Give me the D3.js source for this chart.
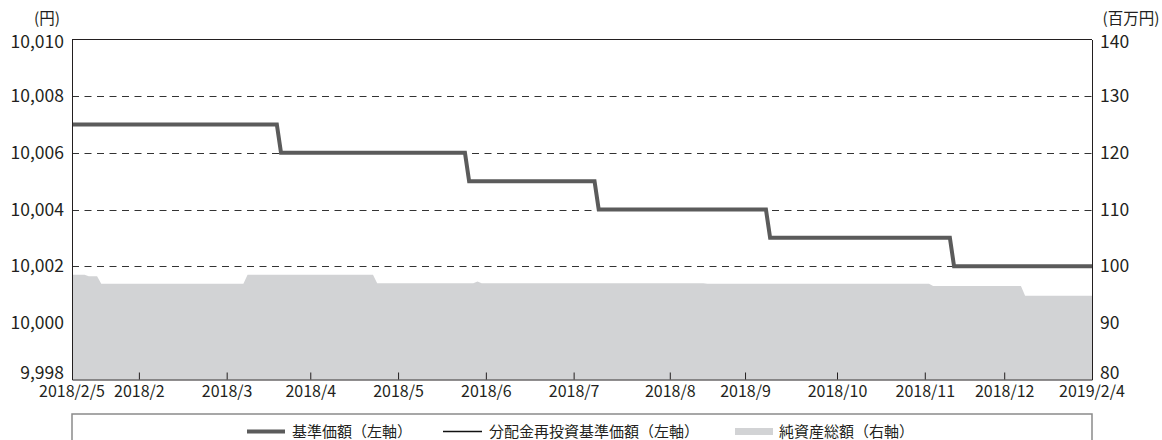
<!DOCTYPE html>
<html><head><meta charset="utf-8">
<script src="https://cdn.jsdelivr.net/npm/d3@7"></script>
<style>
html,body{margin:0;padding:0;background:#fff;}
svg{display:block;font-family:"Noto Sans CJK JP","Noto Sans",sans-serif;}
</style></head>
<body>
<svg id="c" width="1162" height="440"></svg>
<script>
// business-day index axis: 0 = 2018/2/5, 244 = 2019/2/4
const xDomain = [0, 244];
const tickIdx = [16, 37, 57, 78, 99, 120, 143, 161, 183, 204, 223];
const tickLabels = ["2018/2","2018/3","2018/4","2018/5","2018/6","2018/7","2018/8","2018/9","2018/10","2018/11","2018/12"];
const endLabels = ["2018/2/5", "2019/2/4"];
const leftTicks = [9998, 10000, 10002, 10004, 10006, 10008, 10010];
const rightTicks = [80, 90, 100, 110, 120, 130, 140];

// 基準価額 (change points, yen)
const navIdx = [0, 49, 50, 94, 95, 125, 126, 166, 167, 210, 211, 244];
const navVal = [10007, 10007, 10006, 10006, 10005, 10005, 10004, 10004, 10003, 10003, 10002, 10002];
// 分配金再投資基準価額 (same as NAV, no distributions)
const reinvVal = [10007, 10007, 10006, 10006, 10005, 10005, 10004, 10004, 10003, 10003, 10002, 10002];
// 純資産総額 (百万円)
const assetIdx = [0, 3, 4, 6, 7, 41, 42, 72, 73, 96, 97, 98, 151, 152, 205, 206, 227, 228, 244];
const assetVal = [98.5, 98.5, 98.2, 98.2, 96.9, 96.9, 98.5, 98.5, 97.0, 97.0, 97.3, 97.0, 97.0, 96.9, 96.9, 96.5, 96.5, 94.8, 94.8];

const legendLabels = ["基準価額（左軸）", "分配金再投資基準価額（左軸）", "純資産総額（右軸）"];

const L = 72, R = 1092, T = 39.5, B = 379.5;
const svg = d3.select("#c");
const x = d3.scaleLinear().domain(xDomain).range([L, R]);
const yL = d3.scaleLinear().domain([9998, 10010]).range([B, T]);
const yR = d3.scaleLinear().domain([80, 140]).range([B, T]);
const ink = "#231f20";
const labelShift = (d, i, n) => i === 0 ? -6.5 : (i === n.length - 1 ? 2 : 0);

// grid (beneath area)
svg.append("g").selectAll("line").data(leftTicks.slice(1, -1)).join("line")
  .attr("x1", L).attr("x2", R).attr("y1", d => Math.round(yL(d)) + 0.5).attr("y2", d => Math.round(yL(d)) + 0.5)
  .attr("stroke", "#333").attr("stroke-width", 1).attr("stroke-dasharray", "7,5.5");

// area
const assets = assetIdx.map((d, i) => ({i: d, v: assetVal[i]}));
svg.append("path").datum(assets)
  .attr("d", d3.area().x(d => x(d.i)).y0(yR(80)).y1(d => yR(d.v)))
  .attr("fill", "#d2d3d5");

// reinvest line (thin, beneath)
const reinv = navIdx.map((d, i) => ({i: d, v: reinvVal[i]}));
svg.append("path").datum(reinv)
  .attr("d", d3.line().x(d => x(d.i)).y(d => yL(d.v)))
  .attr("fill", "none").attr("stroke", "#111").attr("stroke-width", 1.5);
// NAV line
const nav = navIdx.map((d, i) => ({i: d, v: navVal[i]}));
svg.append("path").datum(nav)
  .attr("d", d3.line().x(d => x(d.i)).y(d => yL(d.v)))
  .attr("fill", "none").attr("stroke", "#5b5b5b").attr("stroke-width", 4).attr("stroke-linejoin", "miter");

// axes
const xAxis = d3.axisBottom(x).tickValues(tickIdx).tickFormat((d, i) => tickLabels[i]).tickSizeInner(-7).tickSizeOuter(0).tickPadding(6);
const gx = svg.append("g").attr("transform", `translate(0,${B})`).call(xAxis);
gx.select(".domain").attr("stroke", ink);
gx.selectAll(".tick line").attr("stroke", ink);
gx.selectAll("text").attr("font-size", 16).attr("fill", ink).attr("font-family", "Noto Sans CJK JP");
svg.append("g").selectAll("text").data(endLabels).join("text")
  .attr("x", (d, i) => x(xDomain[i])).attr("y", B + 6).attr("dy", "0.71em")
  .attr("text-anchor", "middle").attr("font-size", 16).attr("fill", ink).text(d => d);

const fmt = d3.format(",");
const gl = svg.append("g").attr("transform", `translate(${L},0)`)
  .call(d3.axisLeft(yL).tickValues(leftTicks).tickFormat(fmt).tickSize(0).tickPadding(8));
gl.select(".domain").attr("stroke", ink);
gl.selectAll("text").attr("font-size", 17.5).attr("fill", ink).attr("font-family", "Noto Sans CJK JP")
  .attr("transform", (d, i, n) => `translate(0,${labelShift(d, i, n)})`);
const gr = svg.append("g").attr("transform", `translate(${R},0)`)
  .call(d3.axisRight(yR).tickValues(rightTicks).tickSize(0).tickPadding(8));
gr.select(".domain").attr("stroke", ink);
gr.selectAll("text").attr("font-size", 17.5).attr("fill", ink).attr("font-family", "Noto Sans CJK JP")
  .attr("transform", (d, i, n) => `translate(0,${labelShift(d, i, n)})`);
svg.append("line").attr("x1", L).attr("x2", R).attr("y1", T).attr("y2", T).attr("stroke", ink);

svg.append("text").attr("x", 47).attr("y", 24).attr("text-anchor", "middle").attr("font-size", 15.5).attr("fill", ink).text("(円)");
svg.append("text").attr("x", 1131).attr("y", 24).attr("text-anchor", "middle").attr("font-size", 15.5).attr("fill", ink).text("(百万円)");

// legend
svg.append("rect").attr("x", L).attr("y", 414).attr("width", R - L).attr("height", 60)
  .attr("fill", "none").attr("stroke", "#8a8a8a").attr("stroke-width", 1.5);
const ly = 431.5;
const lg = svg.append("g");
lg.append("line").attr("x1", 247).attr("x2", 285).attr("y1", ly).attr("y2", ly).attr("stroke", "#5b5b5b").attr("stroke-width", 4);
lg.append("text").attr("x", 292).attr("y", ly).attr("dy", "0.35em").attr("font-size", 15).attr("fill", ink).text(legendLabels[0]);
lg.append("line").attr("x1", 443).attr("x2", 482).attr("y1", ly).attr("y2", ly).attr("stroke", "#111").attr("stroke-width", 1.5);
lg.append("text").attr("x", 489).attr("y", ly).attr("dy", "0.35em").attr("font-size", 15).attr("fill", ink).text(legendLabels[1]);
lg.append("rect").attr("x", 735).attr("y", ly - 3.5).attr("width", 38).attr("height", 7).attr("fill", "#d2d3d5");
lg.append("text").attr("x", 779).attr("y", ly).attr("dy", "0.35em").attr("font-size", 15).attr("fill", ink).text(legendLabels[2]);
</script>
</body></html>
